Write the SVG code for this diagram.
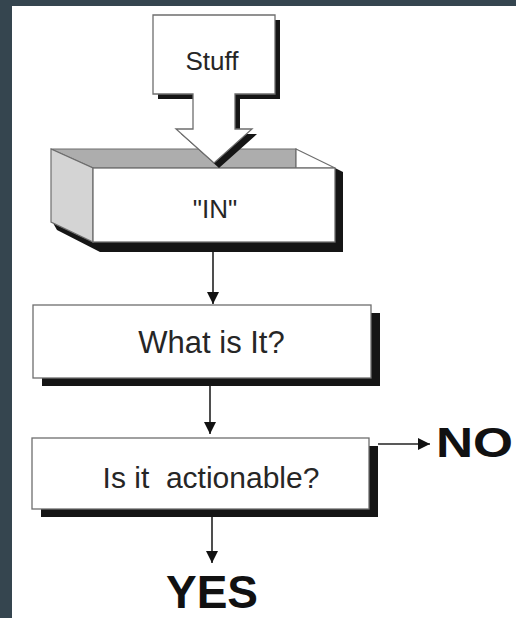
<svg xmlns="http://www.w3.org/2000/svg" width="516" height="618" viewBox="0 0 516 618">
<defs>
<style>
.bg{fill:#35454f}
.face{fill:#ffffff;stroke:#6e6e6e;stroke-width:1.3}
.shadow{fill:#151515}
.lbl{font-family:"Liberation Sans",Arial,Helvetica,sans-serif;fill:#262626;text-anchor:middle}
.big{font-family:"Liberation Sans",Arial,Helvetica,sans-serif;font-weight:bold;fill:#111}
.line{stroke:#222;stroke-width:1.6;fill:none}
</style>
<marker id="ah" viewBox="0 0 12 16" refX="12" refY="8" markerWidth="12" markerHeight="16" markerUnits="userSpaceOnUse" orient="auto">
<path d="M0,2 L12,8 L0,14 Z" fill="#111"/>
</marker>
</defs>
<rect class="bg" x="0" y="0" width="516" height="618"/>
<rect x="12" y="6" width="504" height="612" fill="#ffffff"/>

<g id="in-box">
<path class="shadow" d="M53,223 L57,230 L100,252 L343,252 L343,172 L335,168 L335,242 L93,242 Z"/>
<polygon points="51,149 296,149 296,168 93,168" fill="#adadad" stroke="#6e6e6e" stroke-width="1.2"/>
<polygon points="296,149 335,168 296,168" fill="#ffffff" stroke="#6e6e6e" stroke-width="1.2"/>
<polygon points="51,149 93,168 93,242 51,222" fill="#d4d4d4" stroke="#6e6e6e" stroke-width="1.2"/>
<rect class="face" x="93" y="168" width="242" height="74"/>
<text class="lbl" x="215" y="218" font-size="26">"IN"</text>
</g>

<g id="stuff">
<polygon class="shadow" points="158,20 280,20 280,99 240,99 240,134 257,134 219,168 181,134 198,134 198,99 158,99"/>
<polygon class="face" points="153,15 275,15 275,94 235,94 235,129 252,129 214,163 176,129 193,129 193,94 153,94"/>
<text class="lbl" x="212" y="70" font-size="26">Stuff</text>
</g>

<g id="what">
<rect class="shadow" x="42" y="313" width="338" height="73"/>
<rect class="face" x="33" y="305" width="338" height="73"/>
<text class="lbl" x="211.5" y="353" font-size="31">What is It?</text>
</g>

<g id="actionable">
<rect class="shadow" x="41" y="446" width="337" height="71"/>
<rect class="face" x="32" y="438" width="337" height="71"/>
<text class="lbl" x="211" y="488" font-size="30" style="white-space:pre" xml:space="preserve">Is it  actionable?</text>
</g>

<g id="no">
<text class="big" x="436" y="457" font-size="42" textLength="77" lengthAdjust="spacingAndGlyphs">NO</text>
</g>

<g id="yes">
<text class="big" x="212" y="608" font-size="46" text-anchor="middle">YES</text>
</g>

<g id="connectors">
<line class="line" x1="213" y1="252" x2="213" y2="304" marker-end="url(#ah)"/>
<line class="line" x1="210" y1="386" x2="210" y2="434" marker-end="url(#ah)"/>
<line class="line" x1="212" y1="517" x2="212" y2="563" marker-end="url(#ah)"/>
<line class="line" x1="378" y1="444" x2="430" y2="444" marker-end="url(#ah)"/>
</g>
</svg>
